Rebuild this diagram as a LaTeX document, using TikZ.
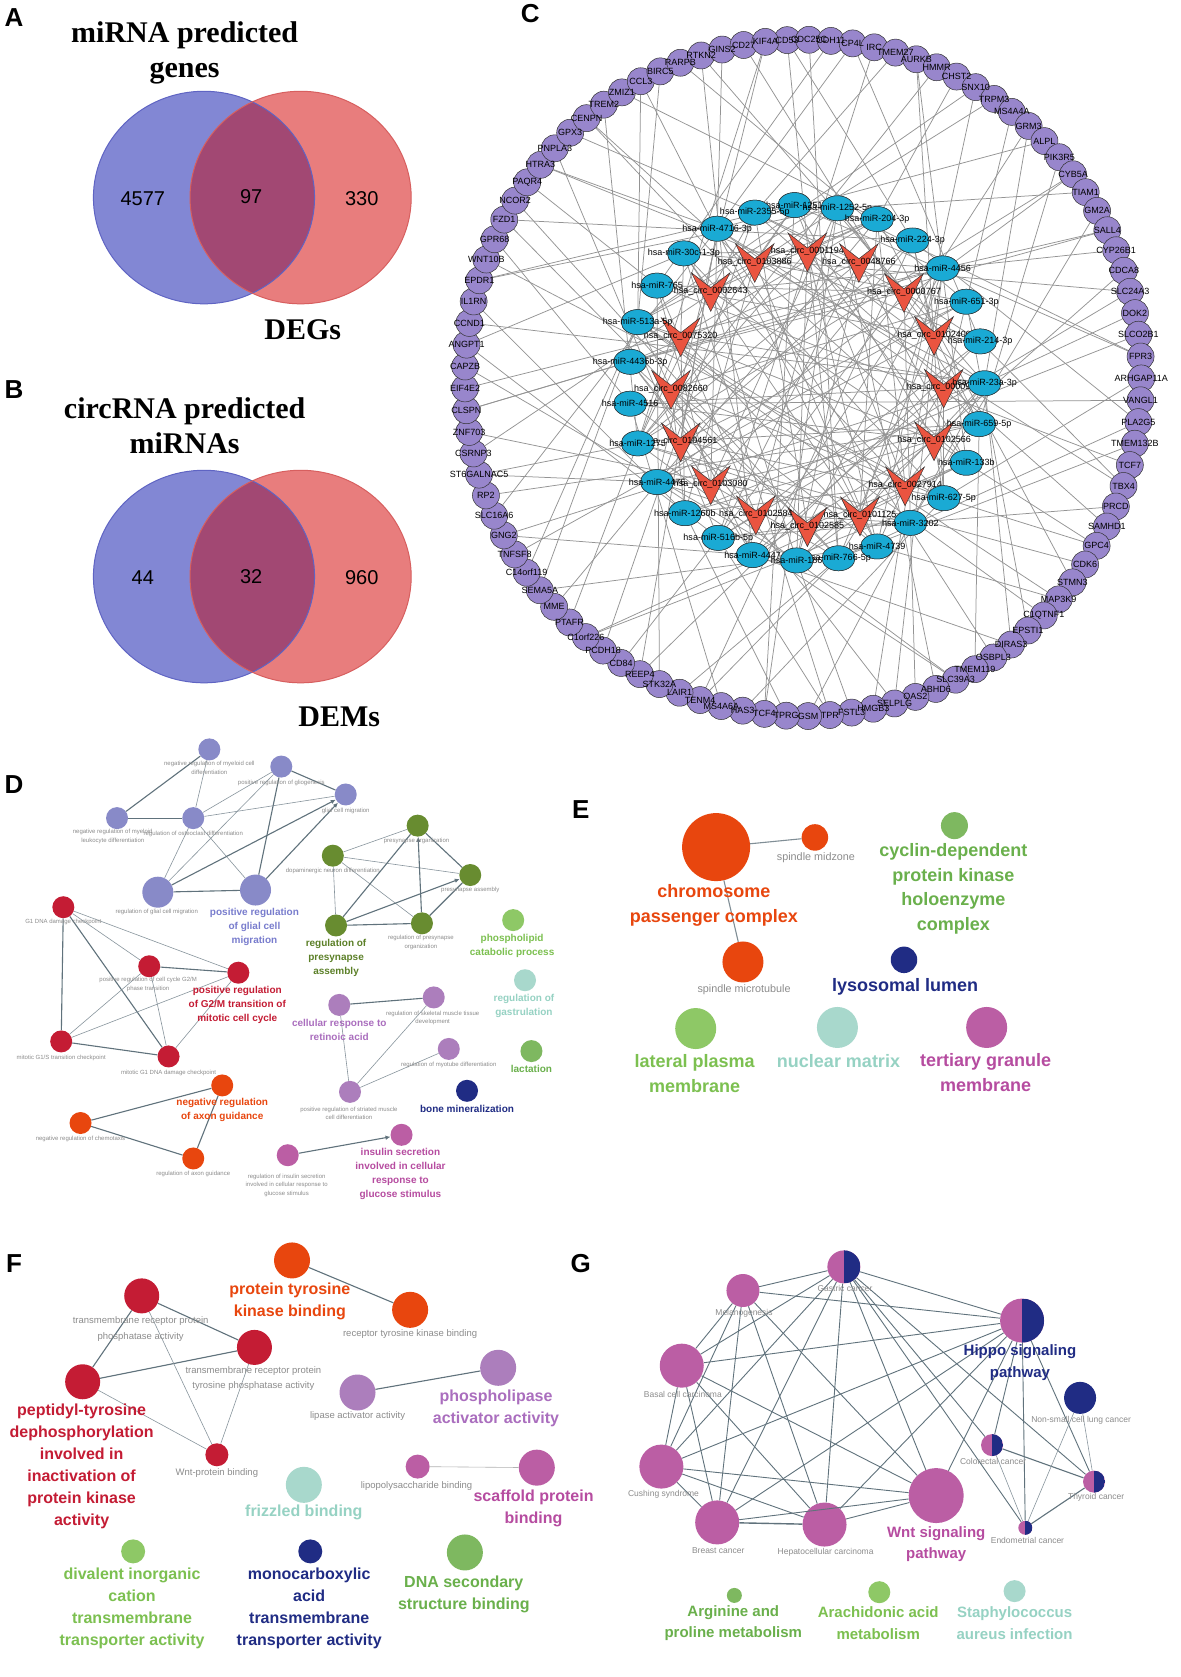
\documentclass[tikz,border=0pt]{standalone}
\usepackage{fontspec}
\setmainfont{Liberation Sans}
\newfontfamily\titlefont{Liberation Serif}
\usetikzlibrary{arrows.meta,backgrounds,shapes.geometric}

% Venn colours
\definecolor{vennblue}{RGB}{130,135,212}
\definecolor{vennblueline}{RGB}{95,100,195}
\definecolor{vennred}{RGB}{232,125,125}
\definecolor{vennredline}{RGB}{215,95,95}
\definecolor{vennboth}{RGB}{162,72,115}
% network colours
\definecolor{genepurple}{RGB}{152,134,204}
\definecolor{mirblue}{RGB}{26,170,212}
\definecolor{circred}{RGB}{234,84,64}
\definecolor{netgray}{RGB}{148,148,148}
% ClueGO colours
\definecolor{cglav}{RGB}{136,138,200}
\definecolor{cglavtxt}{RGB}{120,124,205}
\definecolor{cgolive}{RGB}{104,140,48}
\definecolor{cgolivetxt}{RGB}{92,128,40}
\definecolor{cglime}{RGB}{142,200,102}
\definecolor{cglimetxt}{RGB}{124,192,80}
\definecolor{cgred}{RGB}{196,28,52}
\definecolor{cgorange}{RGB}{232,70,14}
\definecolor{cgorchid}{RGB}{172,126,188}
\definecolor{cgorchidtxt}{RGB}{170,110,190}
\definecolor{cgteal}{RGB}{168,216,204}
\definecolor{cgtealtxt}{RGB}{150,210,195}
\definecolor{cggreen}{RGB}{126,184,96}
\definecolor{cggreentxt}{RGB}{106,176,76}
\definecolor{cgnavy}{RGB}{32,44,132}
\definecolor{cgmag}{RGB}{187,94,164}
\definecolor{cgmagtxt}{RGB}{182,76,160}
\definecolor{cglink}{RGB}{96,114,124}
\definecolor{cggray}{RGB}{140,140,140}

% outer ring of target genes, clockwise from the top
\def\genelist{CD53,CDC25C,CDH11,CP4L,IRC,TMEM27,AURKB,HMMR,CHST2,SNX10,TRPM3,MS4A4A,GRM3,ALPL,PIK3R5,CYB5A,TIAM1,GM2A,SALL4,CYP26B1,CDCA8,SLC24A3,DOK2,SLCO2B1,FPR3,ARHGAP11A,VANGL1,PLA2G5,TMEM132B,TCF7,TBX4,PRCD,SAMHD1,GPC4,CDK6,STMN3,MAP3K9,C1QTNF1,EPSTI1,DIRAS3,OSBPL3,TMEM119,SLC39A3,ABHD6,OAS2,SELPLG,HMGB3,FSTL3,TPR,GSM,TPRG,TCF4,HAS3,MS4A6A,TENM4,LAIR1,STK32A,REEP4,CD84,PCDH18,C1orf226,PTAFR,MME,SEMA5A,C14orf119,TNFSF8,GNG2,SLC16A6,RP2,ST6GALNAC5,CSRNP3,ZNF703,CLSPN,EIF4E2,CAPZB,ANGPT1,CCND1,IL1RN,EPDR1,WNT10B,GPR68,FZD1,NCOR2,PAQR4,HTRA3,PNPLA3,GPX3,CENPN,TREM2,ZMIZ1,CCL3,BIRC5,RARPB,RTKN2,GINS2,CD27,KIF4A}
% miRNAs
\def\mirlist{740/191/1251, 780/194/1252-5p, 817/204/204-3p, 850/224/224-3p, 878/250/4456, 900/281/651-3p, 913/318/214-3p, 917/357/23a-3p, 912/395/659-5p, 900/431/133b, 879/464/627-5p, 848/487/3202, 817/509/4739, 781/520/766-5p, 742/522/186, 701/517/4447, 669/501/516b-5p, 638/478/1260b, 612/449/4476, 594/413/1275, 587/376/4516, 587/337/4436b-3p, 594/300/513a-5p, 612/266/765, 637/236/30c-1-3p, 668/213/4716-3p, 703/198/2355-5p}
% circRNAs
\def\circlist{703/244/0103886, 752/234/0001194, 800/244/0048766, 842/272/0000767, 870/312/0102400, 879/361/0000972, 870/410/0102566, 843/452/0027914, 801/480/0101125, 752/490/0102585, 704/479/0102584, 662/451/0103080, 634/411/0104561, 625/362/0082660, 634/313/0075320, 662/271/0002643}

\begin{document}
\begin{tikzpicture}[x=1.0736pt, y=-1.0736pt,
    panel/.style={font=\bfseries\fontsize{26}{26}\selectfont, inner sep=0pt},
    venntitle/.style={font=\titlefont\bfseries\fontsize{30}{35}\selectfont, align=center, inner sep=0pt},
    vennnum/.style={font=\fontsize{20}{20}\selectfont, inner sep=0pt},
    gene/.style={circle, draw=black!80, line width=0.5pt, fill=genepurple, minimum size=27pt, inner sep=0pt},
    mirna/.style={ellipse, draw=black!80, line width=0.5pt, fill=mirblue, minimum width=33pt, minimum height=25pt, inner sep=0pt},
    circrna/.style={inner sep=0pt, minimum size=20pt},
    vmark/.style={fill=circred, draw=black!80, line width=0.5pt},
    netlab/.style={font=\fontsize{9}{9}\selectfont, inner sep=0pt},
    net/.style={draw=netgray, line width=0.75pt},
    gonode/.style={circle, inner sep=0pt, minimum size=22pt},
    pie/.style={fill=cgmag, path picture={\fill[cgnavy] (path picture bounding box.north) rectangle (path picture bounding box.south east);}},
    golab/.style={font=\fontsize{6}{8.6}\selectfont, text=cggray, align=center, inner sep=0pt},
    dlab/.style={font=\bfseries\fontsize{10}{14}\selectfont, align=center, inner sep=0pt},
    elab/.style={font=\bfseries\fontsize{18}{24.7}\selectfont, align=center, inner sep=0pt},
    egray/.style={font=\fontsize{10.8}{11}\selectfont, text=cggray, inner sep=0pt},
    flab/.style={font=\bfseries\fontsize{16}{22}\selectfont, align=center, inner sep=0pt},
    fgray/.style={font=\fontsize{9.5}{15.5}\selectfont, text=cggray, align=center, inner sep=0pt},
    glab/.style={font=\bfseries\fontsize{15}{21.5}\selectfont, align=center, inner sep=0pt},
    ggray/.style={font=\fontsize{8.5}{8.5}\selectfont, text=cggray, inner sep=0pt},
    golink/.style={draw=cglink, line width=1.1pt},
    gothin/.style={draw=cglink!75, line width=0.6pt},
    goarrow/.style={golink, -{Latex[length=5pt,width=4.5pt]}}
]
\useasboundingbox (0,0) rectangle (1100,1562);
\begin{pgfonlayer}{background}
  \fill[white] (0,0) rectangle (1100,1562);
\end{pgfonlayer}

% Panel letters
\node[panel] (labA) at (13,16) {A};
\node[panel] (labB) at (13,363) {B};
\node[panel] (labC) at (494,13) {C};
\node[panel] (labD) at (13,731) {D};
\node[panel] (labE) at (541,754) {E};
\node[panel] (labF) at (13,1177) {F};
\node[panel] (labG) at (541,1177) {G};

% A: Venn miRNA predicted genes / DEGs
\fill[vennblue] (190,184) ellipse[x radius=103, y radius=99];
\fill[vennred] (280,184) ellipse[x radius=103, y radius=99];
\begin{scope}
  \clip (190,184) ellipse[x radius=103, y radius=99];
  \fill[vennboth] (280,184) ellipse[x radius=103, y radius=99];
\end{scope}
\draw[vennblueline, line width=1pt] (190,184) ellipse[x radius=103, y radius=99];
\draw[vennredline, line width=1pt] (280,184) ellipse[x radius=103, y radius=99];
\node[venntitle] (titA) at (172,49) {miRNA predicted\\genes};
\node[venntitle] (degs) at (282,307) {DEGs};
\node[vennnum] (nA1) at (133,185) {4577};
\node[vennnum] (nA2) at (234,183) {97};
\node[vennnum] (nA3) at (337,185) {330};

% B: Venn circRNA predicted miRNAs / DEMs
\fill[vennblue] (190,537) ellipse[x radius=103, y radius=99];
\fill[vennred] (280,537) ellipse[x radius=103, y radius=99];
\begin{scope}
  \clip (190,537) ellipse[x radius=103, y radius=99];
  \fill[vennboth] (280,537) ellipse[x radius=103, y radius=99];
\end{scope}
\draw[vennblueline, line width=1pt] (190,537) ellipse[x radius=103, y radius=99];
\draw[vennredline, line width=1pt] (280,537) ellipse[x radius=103, y radius=99];
\node[venntitle] (titB) at (172,397) {circRNA predicted\\miRNAs};
\node[venntitle] (dems) at (316,668) {DEMs};
\node[vennnum] (nB1) at (133,538) {44};
\node[vennnum] (nB2) at (234,537) {32};
\node[vennnum] (nB3) at (337,538) {960};

% C: circRNA-miRNA-mRNA network
\foreach \name [count=\i from 0] in \genelist {
  \pgfmathsetmacro{\a}{92.7-\i*3.7113}
  \node[gene] (g\i) at ({748+315*cos(\a)},{352-315*sin(\a)}) {};
}
\foreach \name [count=\i from 0] in \genelist
  \node[netlab] at (g\i) {\name};
\foreach \x/\y/\lab [count=\i from 0] in \circlist
  \node[circrna] (c\i) at (\x,\y) {};
\foreach \x/\y/\lab [count=\i from 0] in \mirlist
  \node[mirna] (m\i) at (\x,\y) {};

\begin{pgfonlayer}{background}
  \foreach \j in {0,...,96} {
    \pgfmathtruncatemacro{\m}{mod(\j*10+3,27)}
    \draw[net] (g\j) -- (m\m);
  }
  \foreach \j in {0,3,...,96} {
    \pgfmathtruncatemacro{\m}{mod(\j*4+13,27)}
    \draw[net] (g\j) -- (m\m);
  }
  \foreach \c in {0,...,15} {
    \foreach \k in {0,...,6} {
      \pgfmathtruncatemacro{\m}{mod(\c*7+\k*5+2,27)}
      \draw[net] (c\c.center) -- (m\m);
    }
  }
\end{pgfonlayer}

\foreach \x/\y/\lab [count=\i from 0] in \circlist {
  \filldraw[vmark] ([shift={(-18,-17)}]c\i.center) -- ([shift={(0,-3)}]c\i.center)
    -- ([shift={(18,-17)}]c\i.center) -- ([shift={(0,19)}]c\i.center) -- cycle;
  \node[netlab] at (c\i) {hsa\_circ\_\lab};
}
\foreach \x/\y/\lab [count=\i from 0] in \mirlist {
  \node[mirna] at (m\i) {};
  \node[netlab] at (m\i) {hsa-miR-\lab};
}

% D: GO biological process
\node[gonode, fill=cglav] (myeloid) at (195,698) {};
\node[gonode, fill=cglav] (glio) at (262,714) {};
\node[gonode, fill=cglav] (glialmig) at (322,740) {};
\node[gonode, fill=cglav] (leuko) at (109,762) {};
\node[gonode, fill=cglav] (osteo) at (180,762) {};
\node[gonode, fill=cglav, minimum size=31pt] (regglial) at (147,831) {};
\node[gonode, fill=cglav, minimum size=31pt] (posglial) at (238,829) {};
\node[gonode, fill=cgolive] (presorg) at (389,769) {};
\node[gonode, fill=cgolive] (dopa) at (310,797) {};
\node[gonode, fill=cgolive] (presasm) at (438,815) {};
\node[gonode, fill=cgolive] (regpresasm) at (313,862) {};
\node[gonode, fill=cgolive] (regpresorg) at (393,860) {};
\node[gonode, fill=cglime] (phospho) at (478,857) {};
\node[gonode, fill=cgred] (gonedna) at (59,845) {};
\node[gonode, fill=cgred] (cyclegm) at (139,900) {};
\node[gonode, fill=cgred] (gtwom) at (222,906) {};
\node[gonode, fill=cgred] (mitgones) at (57,970) {};
\node[gonode, fill=cgred] (mitdna) at (157,984) {};
\node[gonode, fill=cgorange] (negaxon) at (207,1011) {};
\node[gonode, fill=cgorange] (chemo) at (75,1046) {};
\node[gonode, fill=cgorange] (regaxon) at (180,1079) {};
\node[gonode, fill=cgorchid] (retinoic) at (316,936) {};
\node[gonode, fill=cgorchid] (skeletal) at (404,929) {};
\node[gonode, fill=cgorchid] (myotube) at (418,977) {};
\node[gonode, fill=cgorchid] (striated) at (326,1017) {};
\node[gonode, fill=cgteal] (gastru) at (489,913) {};
\node[gonode, fill=cggreen] (lactat) at (495,979) {};
\node[gonode, fill=cgnavy] (bonemin) at (435,1016) {};
\node[gonode, fill=cgmag] (regins) at (268,1076) {};
\node[gonode, fill=cgmag] (insulin) at (374,1057) {};

\draw[golink] (leuko) -- (myeloid);
\draw[golink] (leuko) -- (osteo);
\draw[gothin] (myeloid) -- (osteo);
\draw[gothin] (osteo) -- (glio);
\draw[gothin] (osteo) -- (glialmig);
\draw[gothin] (osteo) -- (regglial);
\draw[gothin] (osteo) -- (posglial);
\draw[gothin] (glio) -- (regglial);
\draw[golink] (glio) -- (posglial);
\draw[golink] (glio) -- (glialmig);
\draw[golink] (regglial) -- (posglial);
\draw[goarrow] (regglial) -- (glialmig);
\draw[goarrow] (posglial) -- (glialmig);
\draw[gothin] (dopa) -- (presorg);
\draw[gothin] (dopa) -- (presasm);
\draw[gothin] (dopa) -- (regpresasm);
\draw[gothin] (dopa) -- (regpresorg);
\draw[golink] (presorg) -- (regpresasm);
\draw[golink] (presorg) -- (presasm);
\draw[golink] (regpresasm) -- (regpresorg);
\draw[goarrow] (regpresasm) -- (presasm);
\draw[goarrow] (regpresorg) -- (presorg);
\draw[golink] (regpresorg) -- (presasm);
\draw[golink] (gonedna) -- (mitgones);
\draw[golink] (gonedna) -- (mitdna);
\draw[gothin] (gonedna) -- (cyclegm);
\draw[gothin] (gonedna) -- (gtwom);
\draw[golink] (cyclegm) -- (gtwom);
\draw[gothin] (cyclegm) -- (mitgones);
\draw[gothin] (cyclegm) -- (mitdna);
\draw[gothin] (gtwom) -- (mitgones);
\draw[gothin] (gtwom) -- (mitdna);
\draw[golink] (mitgones) -- (mitdna);
\draw[golink] (negaxon) -- (chemo);
\draw[golink] (chemo) -- (regaxon);
\draw[golink] (negaxon) -- (regaxon);
\draw[golink] (retinoic) -- (skeletal);
\draw[gothin] (retinoic) -- (striated);
\draw[gothin] (skeletal) -- (striated);
\draw[gothin] (myotube) -- (striated);
\draw[goarrow] (regins) -- (insulin);

\node[golab] (myeloid-t) at (195,715) {negative regulation of myeloid cell\\differentiation};
\node[golab] (glio-t) at (262,729) {positive regulation of gliogenesis};
\node[golab] (glialmig-t) at (322,755) {glial cell migration};
\node[golab] (leuko-t) at (105,779) {negative regulation of myeloid\\leukocyte differentiation};
\node[golab] (osteo-t) at (180,777) {regulation of osteoclast differentiation};
\node[golab] (regglial-t) at (146,849) {regulation of glial cell migration};
\node[dlab, text=cglavtxt] (posglial-t) at (237,863) {positive regulation\\of glial cell\\migration};
\node[golab] (presorg-t) at (388,783) {presynapse organization};
\node[golab] (dopa-t) at (310,811) {dopaminergic neuron differentiation};
\node[golab] (presasm-t) at (438,829) {presynapse assembly};
\node[dlab, text=cgolivetxt] (regpresasm-t) at (313,892) {regulation of\\presynapse\\assembly};
\node[golab] (regpresorg-t) at (392,878) {regulation of presynapse\\organization};
\node[dlab, text=cglimetxt] (phospho-t) at (477,881) {phospholipid\\catabolic process};
\node[golab] (gonedna-t) at (59,859) {G1 DNA damage checkpoint};
\node[golab] (cyclegm-t) at (138,917) {positive regulation of cell cycle G2/M\\phase transition};
\node[dlab, text=cgred] (gtwom-t) at (221,936) {positive regulation\\of G2/M transition of\\mitotic cell cycle};
\node[golab] (mitgones-t) at (57,985) {mitotic G1/S transition checkpoint};
\node[golab] (mitdna-t) at (157,999) {mitotic G1 DNA damage checkpoint};
\node[dlab, text=cgorange] (negaxon-t) at (207,1034) {negative regulation\\of axon guidance};
\node[golab] (chemo-t) at (75,1061) {negative regulation of chemotaxis};
\node[golab] (regaxon-t) at (180,1093) {regulation of axon guidance};
\node[dlab, text=cgorchidtxt] (retinoic-t) at (316,959) {cellular response to\\retinoic acid};
\node[golab] (skeletal-t) at (403,948) {regulation of skeletal muscle tissue\\development};
\node[golab] (myotube-t) at (418,992) {regulation of myotube differentiation};
\node[golab] (striated-t) at (325,1037) {positive regulation of striated muscle\\cell differentiation};
\node[dlab, text=cgtealtxt] (gastru-t) at (488,937) {regulation of\\gastrulation};
\node[dlab, text=cggreentxt] (lactat-t) at (495,996) {lactation};
\node[dlab, text=cgnavy] (bonemin-t) at (435,1033) {bone mineralization};
\node[golab] (regins-t) at (267,1104) {regulation of insulin secretion\\involved in cellular response to\\glucose stimulus};
\node[dlab, text=cgmagtxt] (insulin-t) at (373,1093) {insulin secretion\\involved in cellular\\response to\\glucose stimulus};

% E: GO cellular component
\node[gonode, fill=cgorange, minimum size=68pt] (chromo) at (667,789) {};
\node[gonode, fill=cgorange, minimum size=26.5pt] (spmid) at (759,780) {};
\node[gonode, fill=cgorange, minimum size=41pt] (spmicro) at (692,896) {};
\node[gonode, fill=cggreen, minimum size=27pt] (cyclin) at (889,769) {};
\node[gonode, fill=cgnavy, minimum size=26.5pt] (lyso) at (842,894) {};
\node[gonode, fill=cglime, minimum size=41pt] (lateral) at (648,958) {};
\node[gonode, fill=cgteal, minimum size=41pt] (nucmat) at (780,957) {};
\node[gonode, fill=cgmag, minimum size=41pt] (tertiary) at (919,957) {};
\draw[golink, draw=cglink!80] (chromo) -- (spmid);
\draw[golink, draw=cglink!80] (chromo) -- (spmicro);
\node[elab, text=cgorange] (chromo-t) at (665,843) {chromosome\\passenger complex};
\node[egray] (spmid-t) at (760,799) {spindle midzone};
\node[egray] (spmicro-t) at (693,922) {spindle microtubule};
\node[elab, text=cggreentxt] (cyclin-t) at (888,828) {cyclin-dependent\\protein kinase\\holoenzyme\\complex};
\node[elab, text=cgnavy] (lyso-t) at (843,919) {lysosomal lumen};
\node[elab, text=cglimetxt] (lateral-t) at (647,1000) {lateral plasma\\membrane};
\node[elab, text=cgtealtxt] (nucmat-t) at (781,988) {nuclear matrix};
\node[elab, text=cgmagtxt] (tertiary-t) at (918,999) {tertiary granule\\membrane};

% F: GO molecular function
\node[gonode, fill=cgred, minimum size=35pt] (tmrppa) at (132,1207) {};
\node[gonode, fill=cgred, minimum size=35pt] (tmrptpa) at (237,1255) {};
\node[gonode, fill=cgred, minimum size=35pt] (peptyr) at (77,1287) {};
\node[gonode, fill=cgred, minimum size=23pt] (wntbind) at (202,1355) {};
\node[gonode, fill=cgorange, minimum size=36pt] (ptkb) at (272,1174) {};
\node[gonode, fill=cgorange, minimum size=36pt] (rtkb) at (382,1220) {};
\node[gonode, fill=cgorchid, minimum size=36pt] (lipact) at (333,1297) {};
\node[gonode, fill=cgorchid, minimum size=36pt] (phosact) at (464,1274) {};
\node[gonode, fill=cgmag, minimum size=24pt] (lps) at (389,1366) {};
\node[gonode, fill=cgmag, minimum size=36pt] (scaffold) at (500,1367) {};
\node[gonode, fill=cgteal, minimum size=36pt] (frizzled) at (283,1383) {};
\node[gonode, fill=cglime, minimum size=24pt] (divalent) at (124,1445) {};
\node[gonode, fill=cgnavy, minimum size=24pt] (monocarb) at (289,1445) {};
\node[gonode, fill=cggreen, minimum size=36pt] (dnasec) at (433,1446) {};
\draw[golink] (tmrppa) -- (tmrptpa);
\draw[golink] (tmrppa) -- (peptyr);
\draw[golink] (peptyr) -- (tmrptpa);
\draw[gothin] (tmrppa) -- (wntbind);
\draw[gothin] (tmrptpa) -- (wntbind);
\draw[gothin] (peptyr) -- (wntbind);
\draw[golink] (ptkb) -- (rtkb);
\draw[golink] (lipact) -- (phosact);
\draw[gothin, draw=black!30] (lps) -- (scaffold);
\node[fgray] (tmrppa-t) at (131,1238) {transmembrane receptor protein\\phosphatase activity};
\node[fgray] (tmrptpa-t) at (236,1284) {transmembrane receptor protein\\tyrosine phosphatase activity};
\node[flab, text=cgred] (peptyr-t) at (76,1366) {peptidyl-tyrosine\\dephosphorylation\\involved in\\inactivation of\\protein kinase\\activity};
\node[fgray] (wntbind-t) at (202,1372) {Wnt-protein binding};
\node[flab, text=cgorange] (ptkb-t) at (270,1212) {protein tyrosine\\kinase binding};
\node[fgray] (rtkb-t) at (382,1243) {receptor tyrosine kinase binding};
\node[fgray] (lipact-t) at (333,1319) {lipase activator activity};
\node[flab, text=cgorchidtxt] (phosact-t) at (462,1312) {phospholipase\\activator activity};
\node[fgray] (lps-t) at (388,1384) {lipopolysaccharide binding};
\node[flab, text=cgmagtxt] (scaffold-t) at (497,1405) {scaffold protein\\binding};
\node[flab, text=cgtealtxt] (frizzled-t) at (283,1409) {frizzled binding};
\node[flab, text=cglimetxt] (divalent-t) at (123,1498) {divalent inorganic\\cation\\transmembrane\\transporter activity};
\node[flab, text=cgnavy] (monocarb-t) at (288,1498) {monocarboxylic\\acid\\transmembrane\\transporter activity};
\node[flab, text=cggreentxt] (dnasec-t) at (432,1485) {DNA secondary\\structure binding};

% G: KEGG pathways
\node[gonode, minimum size=33pt, pie] (gastric) at (786,1180) {};
\node[gonode, fill=cgmag, minimum size=33pt] (melano) at (692,1202) {};
\node[gonode, minimum size=44pt, pie] (hippo) at (952,1230) {};
\node[gonode, fill=cgmag, minimum size=44pt] (basal) at (635,1272) {};
\node[gonode, fill=cgnavy, minimum size=32pt] (nsclc) at (1006,1302) {};
\node[gonode, minimum size=22pt, pie] (colo) at (924,1346) {};
\node[gonode, minimum size=22pt, pie] (thyroid) at (1019,1380) {};
\node[gonode, fill=cgmag, minimum size=44pt] (cushing) at (616,1366) {};
\node[gonode, fill=cgmag, minimum size=44pt] (breast) at (668,1418) {};
\node[gonode, fill=cgmag, minimum size=44pt] (hepato) at (768,1420) {};
\node[gonode, fill=cgmag, minimum size=55pt] (wnt) at (872,1393) {};
\node[gonode, minimum size=14pt, pie] (endo) at (955,1423) {};
\node[gonode, fill=cggreen, minimum size=15pt] (argin) at (684,1486) {};
\node[gonode, fill=cglime, minimum size=22pt] (arach) at (819,1483) {};
\node[gonode, fill=cgteal, minimum size=22pt] (staph) at (945,1482) {};
\foreach \t in {melano,hippo,basal,cushing,breast,hepato,wnt,colo,thyroid,endo}
  \draw[golink, line width=0.9pt] (gastric) -- (\t);
\foreach \t in {hippo,basal,cushing,breast,hepato,wnt}
  \draw[golink, line width=0.9pt] (melano) -- (\t);
\foreach \t in {basal,cushing,breast,hepato,wnt,colo,endo,thyroid}
  \draw[golink, line width=0.9pt] (hippo) -- (\t);
\foreach \t in {cushing,breast,hepato,wnt}
  \draw[golink, line width=0.9pt] (basal) -- (\t);
\foreach \t in {breast,hepato,wnt}
  \draw[golink, line width=0.9pt] (cushing) -- (\t);
\draw[golink, line width=1.4pt] (breast) -- (hepato);
\draw[golink, line width=0.9pt] (breast) -- (wnt);
\draw[golink, line width=0.9pt] (hepato) -- (wnt);
\draw[golink, line width=1.1pt] (colo) -- (thyroid);
\draw[gothin] (colo) -- (endo);
\draw[gothin] (nsclc) -- (thyroid);
\draw[gothin] (nsclc) -- (endo);
\draw[golink, line width=1.1pt] (thyroid) -- (endo);
\node[ggray] (gastric-t) at (787,1200) {Gastric cancer};
\node[ggray] (melano-t) at (693,1223) {Melanogenesis};
\node[glab, text=cgnavy] (hippo-t) at (950,1269) {Hippo signaling\\pathway};
\node[ggray] (basal-t) at (636,1299) {Basal cell carcinoma};
\node[ggray] (nsclc-t) at (1007,1323) {Non-small cell lung cancer};
\node[ggray] (colo-t) at (925,1361) {Colorectal cancer};
\node[ggray] (thyroid-t) at (1021,1395) {Thyroid cancer};
\node[ggray] (cushing-t) at (618,1392) {Cushing syndrome};
\node[ggray] (breast-t) at (669,1444) {Breast cancer};
\node[ggray] (hepato-t) at (769,1446) {Hepatocellular carcinoma};
\node[glab, text=cgmagtxt] (wnt-t) at (872,1438) {Wnt signaling\\pathway};
\node[ggray] (endo-t) at (957,1435) {Endometrial cancer};
\node[glab, text=cggreentxt] (argin-t) at (683,1512) {Arginine and\\proline metabolism};
\node[glab, text=cglimetxt] (arach-t) at (818,1512) {Arachidonic acid\\metabolism};
\node[glab, text=cgtealtxt] (staph-t) at (945,1512) {Staphylococcus\\aureus infection};
\end{tikzpicture}
\end{document}
